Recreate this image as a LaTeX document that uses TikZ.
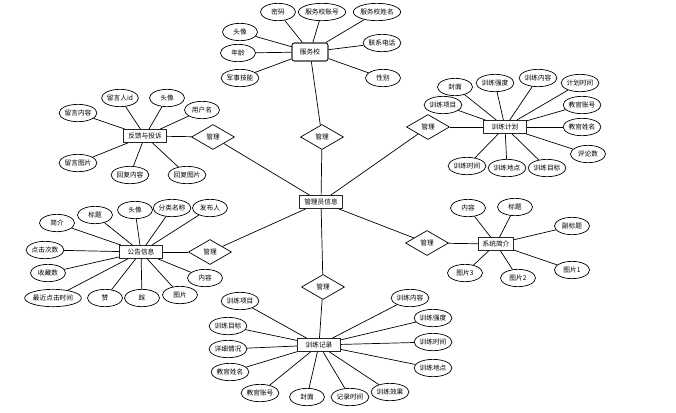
\documentclass[tikz,border=0pt]{standalone}
\usepackage{fontspec}
\setmainfont{Noto Sans CJK SC}
\usetikzlibrary{shapes.geometric}

\begin{document}
\begin{tikzpicture}[
  x=0.03cm, y=-0.03cm,
  font=\fontsize{5.7}{6.5}\selectfont,
  ent/.style={draw=black!85, line width=0.9pt, fill=white,
              minimum width=1.3cm, minimum height=0.38cm, inner sep=1pt},
  attr/.style={draw, ellipse, line width=0.6pt, fill=white,
               minimum width=1.05cm, minimum height=0.52cm, inner sep=0pt},
  rel/.style={draw, diamond, line width=0.6pt, fill=white,
              minimum width=1.29cm, minimum height=0.75cm, inner sep=0pt},
  lnk/.style={line width=0.6pt, black}
]
  \useasboundingbox (0,0) rectangle (676,412);

  % centre
  \node[ent] (admin) at (321,202) {管理员信息};

  % relations
  \node[rel] (rt) at (322,137) {管理};
  \node[rel] (rb) at (323,287) {管理};
  \node[rel] (rlu) at (213,137) {管理};
  \node[rel] (rld) at (210,252) {管理};
  \node[rel] (rru) at (428,127) {管理};
  \node[rel] (rrd) at (427,243) {管理};

  % entities
  \node[ent, rounded corners=2pt, minimum width=1.08cm, minimum height=0.54cm]
    (sfx) at (310,52) {服务校};
  \node[ent] (fk) at (145,136) {反馈与投诉};
  \node[ent] (gg) at (141,252) {公告信息};
  \node[ent] (jh) at (505,127) {训练计划};
  \node[ent, minimum width=1.05cm] (xt) at (496,244) {系统简介};
  \node[ent] (jl) at (319,345) {训练记录};

  \foreach \r/\e in {rt/sfx, rb/jl, rlu/fk, rld/gg, rru/jh, rrd/xt} {
    \draw[lnk] (admin) -- (\r);
    \draw[lnk] (\r) -- (\e);
  }

  % top side
  \foreach \t/\x/\y [count=\i] in {密码/278/12, 服务校账号/322/12,
      服务校姓名/377/12, 头像/240/32, 年龄/238/53, 军事技能/240/78,
      联系电话/382/43, 性别/383/78} {
    \node[attr] (sfx\i) at (\x,\y) {\t};
    \draw[lnk] (sfx\i) -- (sfx);
  }

  % left side
  \foreach \t/\x/\y [count=\i] in {留言人id/120/98, 头像/167/98,
      用户名/202/110, 留言内容/78/113, 留言图片/78/163, 回复内容/130/175,
      回复图片/187/175} {
    \node[attr] (fk\i) at (\x,\y) {\t};
    \draw[lnk] (fk\i) -- (fk);
  }
  \foreach \t/\x/\y [count=\i] in {简介/57/223, 标题/95/215, 头像/135/210,
      分类名称/172/208, 发布人/210/208, 点击次数/45/250, 收藏数/48/273,
      最近点击时间/53/298, 赞/105/298, 踩/142/298, 图片/180/295,
      内容/205/278} {
    \node[attr] (gg\i) at (\x,\y) {\t};
    \draw[lnk] (gg\i) -- (gg);
  }

  % right side
  \foreach \t/\x/\y [count=\i] in {封面/455/87, 训练强度/495/83,
      训练内容/538/78, 计划时间/580/83, 训练项目/443/105, 教官账号/582/105,
      教官姓名/582/127, 评论数/588/154, 训练时间/467/166, 训练地点/507/168,
      训练目标/547/168} {
    \node[attr] (jh\i) at (\x,\y) {\t};
    \draw[lnk] (jh\i) -- (jh);
  }
  \foreach \t/\x/\y [count=\i] in {内容/468/208, 标题/515/207,
      副标题/572/226, 图片3/465/273, 图片2/518/278, 图片1/572/270} {
    \node[attr] (xt\i) at (\x,\y) {\t};
    \draw[lnk] (xt\i) -- (xt);
  }

  % bottom side
  \foreach \t/\x/\y [count=\i] in {训练项目/240/301, 训练目标/228/326,
      详细情况/228/349, 教官姓名/230/372, 教官账号/260/393, 封面/307/397,
      记录时间/350/397, 训练效果/390/392, 训练内容/410/298,
      训练强度/433/318, 训练时间/433/342, 训练地点/433/368} {
    \node[attr] (jl\i) at (\x,\y) {\t};
    \draw[lnk] (jl\i) -- (jl);
  }
\end{tikzpicture}
\end{document}
